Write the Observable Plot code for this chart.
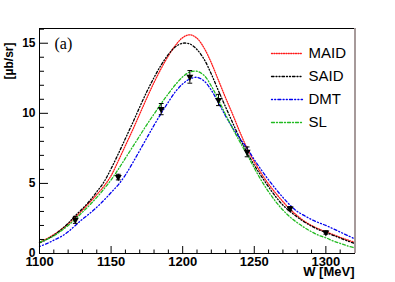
<!DOCTYPE html>
<html><head><meta charset="utf-8">
<script src="https://cdn.jsdelivr.net/npm/d3@7"></script>
<script src="https://cdn.jsdelivr.net/npm/@observablehq/plot@0.6"></script>
<style>html,body{margin:0;padding:0;background:#fff;} #chart{width:395px;height:282px;}</style>
</head><body><div id="chart"></div>
<script>
// Energy grid (MeV)
const W = [1100,1105,1110,1115,1120,1125,1130,1135,1140,1145,1150,1155,1160,1165,1170,1175,1180,1185,1190,1195,1200,1205,1210,1215,1220,1225,1230,1235,1240,1245,1250,1255,1260,1265,1270,1275,1280,1285,1290,1295,1300,1305,1310,1315,1320];
const maid = [0.80,1.05,1.35,1.70,2.10,2.60,3.10,3.65,4.20,4.80,5.55,6.60,7.70,8.80,9.95,11.10,12.20,13.20,14.10,14.85,15.40,15.60,15.35,14.65,13.60,12.35,11.10,9.90,8.65,7.50,6.55,5.70,4.95,4.30,3.70,3.15,2.70,2.30,2.00,1.75,1.55,1.35,1.15,0.97,0.80];
const said = [0.75,1.00,1.30,1.70,2.15,2.70,3.20,3.75,4.40,5.10,6.05,7.10,8.20,9.30,10.45,11.55,12.55,13.45,14.20,14.75,15.00,14.95,14.55,13.85,12.80,11.60,10.45,9.30,8.20,7.20,6.30,5.50,4.75,4.05,3.45,3.00,2.60,2.25,1.95,1.70,1.50,1.30,1.10,0.90,0.72];
const dmt = [0.50,0.70,0.95,1.20,1.55,2.00,2.45,2.85,3.30,3.80,4.35,4.90,5.60,6.45,7.35,8.25,9.15,10.00,10.80,11.55,12.10,12.45,12.57,12.30,11.65,10.75,9.80,8.95,8.20,7.50,6.70,5.95,5.25,4.60,4.00,3.45,3.00,2.70,2.42,2.20,2.00,1.77,1.53,1.29,1.05];
const sl = [0.80,1.00,1.25,1.60,2.00,2.45,2.95,3.45,4.00,4.60,5.25,6.00,6.80,7.60,8.40,9.20,9.95,10.70,11.40,12.05,12.60,12.95,13.00,12.70,11.95,10.95,9.90,8.90,7.95,7.05,6.10,5.20,4.40,3.70,3.10,2.60,2.20,1.85,1.55,1.30,1.12,0.90,0.72,0.55,0.40];

// Measured points
const dataW = [1125,1155,1185,1205,1225,1245,1275,1300];
const dataV = [2.4,5.45,10.3,12.6,10.95,7.25,3.2,1.5];
const dataE = [0.25,0.2,0.4,0.45,0.4,0.35,0.15,0.12];

// Ticks
const xMajor = [1100,1150,1200,1250,1300];
const xMinor = [1110,1120,1130,1140,1160,1170,1180,1190,1210,1220,1230,1240,1260,1270,1280,1290,1310];
const yMajor = [0,5,10,15];
const yMinor = [1,2,3,4,6,7,8,9,11,12,13,14,16];

const names = ["MAID","SAID","DMT","SL"];
const colors = ["#ff1a1a","#000000","#0000ee","#22bb22"];
const dashes = ["1,1.4","2.5,2,1,2,1,2","1,2.2,1,2.2,3,2.2","3,2,1,2"];
const curves = [maid, said, dmt, sl];

const pts = dataW.map((w,i)=>({w, v:dataV[i], e:dataE[i]}));
const lineShape = {draw(ctx, l){ ctx.moveTo(0,0); ctx.lineTo(0,-l); }};

const width = 395, height = 282, mL = 39, mR = 41, mT = 28, mB = 29;
const innerW = width - mL - mR, innerH = height - mT - mB;

const marks = [];
curves.forEach((c, k) => {
  marks.push(Plot.line(W.map((w,i)=>({w, v:c[i]})), {x:"w", y:"v", stroke:colors[k], strokeWidth:1.3, strokeDasharray:dashes[k], curve:"catmull-rom"}));
});
marks.push(Plot.ruleX(pts, {x:"w", y1:d=>d.v-d.e, y2:d=>d.v+d.e, stroke:"#000", strokeWidth:1}));
marks.push(Plot.vector(pts, {x:"w", y:d=>d.v+d.e, rotate:90, length:4, anchor:"middle", shape:lineShape, stroke:"#000", strokeWidth:1}));
marks.push(Plot.vector(pts, {x:"w", y:d=>d.v-d.e, rotate:90, length:4, anchor:"middle", shape:lineShape, stroke:"#000", strokeWidth:1}));
marks.push(Plot.dot(pts, {x:"w", y:"v", symbol:"triangle", rotate:180, r:2.6, fill:"#000", stroke:"none"}));

// ticks inside the frame
marks.push(Plot.ruleY(yMajor, {insetRight: innerW - 9, stroke:"#000", strokeWidth:1}));
marks.push(Plot.ruleY(yMinor, {insetRight: innerW - 5, stroke:"#000", strokeWidth:1}));
marks.push(Plot.ruleX(xMajor, {insetTop: innerH - 7, stroke:"#000", strokeWidth:1}));
marks.push(Plot.ruleX(xMinor, {insetTop: innerH - 3.5, stroke:"#000", strokeWidth:1}));

marks.push(Plot.frame({stroke:"#000", strokeWidth:1}));
marks.push(Plot.ruleX([1320], {stroke:"#a69a9a", strokeWidth:2, dx:0.5}));

marks.push(Plot.axisY({ticks:yMajor, tickSize:0, tickPadding:4, fontSize:12, fontWeight:"bold", label:null}));
marks.push(Plot.axisX({ticks:xMajor, tickSize:0, tickPadding:3, fontSize:13, fontWeight:"bold", label:null, tickFormat:d=>String(d)}));

marks.push(Plot.text(["W [MeV]"], {frameAnchor:"bottom-right", textAnchor:"end", lineAnchor:"top", dy:13, fontSize:13, fontWeight:"bold"}));
marks.push(Plot.text(["[µb/sr]"], {frameAnchor:"top-left", textAnchor:"end", lineAnchor:"middle", rotate:-90, dx:-30, dy:14, fontSize:12, fontWeight:"bold"}));
marks.push(Plot.text(["(a)"], {frameAnchor:"top-left", textAnchor:"start", lineAnchor:"middle", dx:15, dy:15, fontSize:16, fontFamily:"Liberation Serif, Times New Roman, serif"}));

names.forEach((n, k) => {
  marks.push(Plot.vector([0], {frameAnchor:"top-right", dx:-83, dy:25 + 23*k, rotate:90, length:31, anchor:"start", shape:lineShape, stroke:colors[k], strokeWidth:1.3, strokeDasharray:dashes[k]}));
  marks.push(Plot.text([n], {frameAnchor:"top-right", dx:-46, dy:25 + 23*k, textAnchor:"start", lineAnchor:"middle", fontSize:15}));
});

const chart = Plot.plot({
  width, height, marginLeft:mL, marginRight:mR, marginTop:mT, marginBottom:mB,
  style:{fontFamily:"Liberation Sans, Arial, sans-serif", background:"#fff", color:"#000", overflow:"visible"},
  x:{domain:[1100,1320]},
  y:{domain:[0,16.05]},
  marks
});
document.getElementById("chart").appendChild(chart);
</script>
</body></html>
